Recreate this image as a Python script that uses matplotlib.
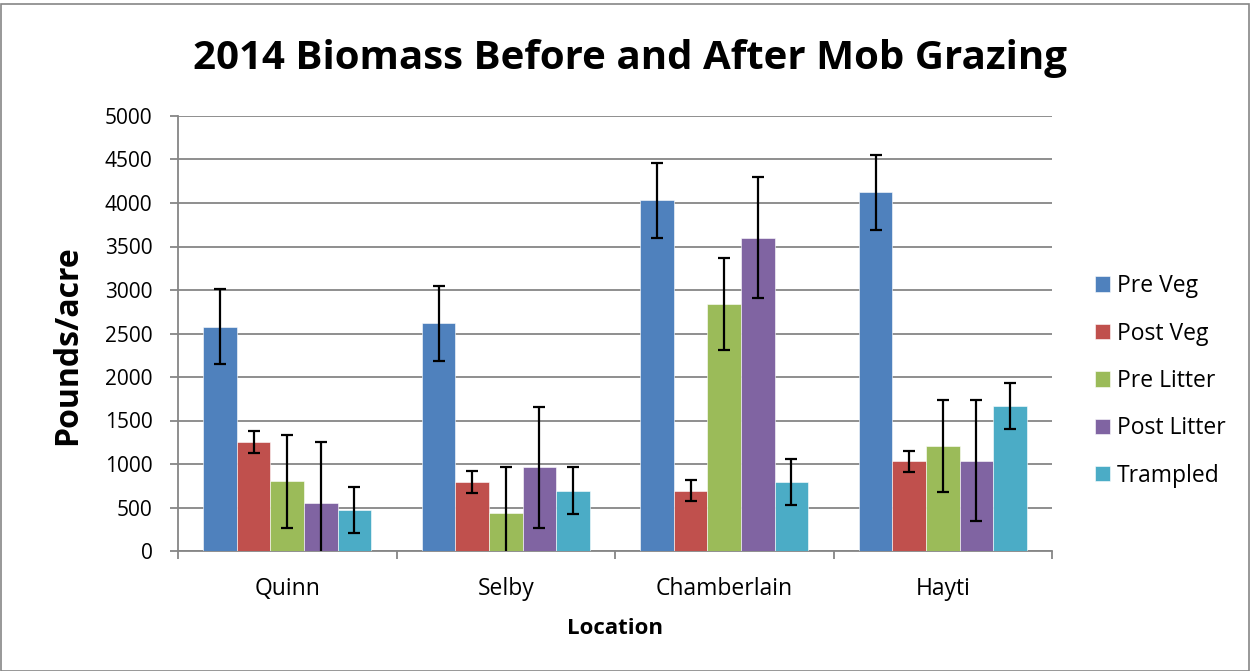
import matplotlib.pyplot as plt
import matplotlib.patches as patches
import numpy as np

plt.rcParams['font.family'] = ['Open Sans', 'DejaVu Sans']

# Data (pounds/acre)
locations = ['Quinn', 'Selby', 'Chamberlain', 'Hayti']
series = ['Pre Veg', 'Post Veg', 'Pre Litter', 'Post Litter', 'Trampled']
colors = ['#4F81BD', '#C0504D', '#9BBB59', '#8064A2', '#4BACC6']

pre_veg = [2580, 2615, 4030, 4125]
post_veg = [1250, 795, 695, 1030]
pre_litter = [800, 435, 2840, 1205]
post_litter = [555, 965, 3600, 1040]
trampled = [470, 695, 790, 1670]

pre_veg_err = [430, 430, 430, 430]
post_veg_err = [125, 125, 125, 125]
pre_litter_err = [530, 530, 530, 530]
post_litter_err = [695, 695, 695, 695]
trampled_err = [265, 265, 265, 265]

values = [pre_veg, post_veg, pre_litter, post_litter, trampled]
errors = [pre_veg_err, post_veg_err, pre_litter_err, post_litter_err, trampled_err]

grid_col = '#868686'

fig = plt.figure(figsize=(12.51, 6.71), dpi=100)
ax = fig.add_axes([178 / 1251, 1 - 551 / 671, 874 / 1251, 435 / 671])

# chart border
fig.patches.append(patches.Rectangle((0.0008, 0.0), 0.9976, 0.9935, transform=fig.transFigure,
                                     fill=False, edgecolor=grid_col, linewidth=1.2))

x = np.arange(len(locations))
bw = 1 / 6.5
for i, (vals, errs) in enumerate(zip(values, errors)):
    pos = x + (i - 2) * bw
    ax.bar(pos, vals, width=bw, color=colors[i], edgecolor='white', linewidth=0.4,
           label=series[i], zorder=3)
    ax.errorbar(pos, vals, yerr=errs, fmt='none', ecolor='black', elinewidth=1.6,
                capsize=4.3, capthick=1.6, zorder=4)

ax.set_xlim(-0.5, 3.5)
ax.set_ylim(0, 5000)
ax.set_yticks(np.arange(0, 5001, 500))
ax.yaxis.grid(True, color=grid_col, linewidth=1.3, zorder=0)
ax.set_axisbelow(True)

ax.set_xticks(np.arange(-0.5, 3.6, 1))
ax.set_xticklabels([])
ax.set_xticks(x, minor=True)
ax.set_xticklabels(locations, minor=True, fontsize=16.5)
ax.tick_params(axis='x', which='major', length=6, width=1.3, color=grid_col)
ax.tick_params(axis='x', which='minor', length=0, pad=18.5)
ax.tick_params(axis='y', length=5.8, width=1.3, color=grid_col, labelsize=15, pad=12.5)

for side in ['top', 'right']:
    ax.spines[side].set_visible(False)
for side in ['left', 'bottom']:
    ax.spines[side].set_color(grid_col)
    ax.spines[side].set_linewidth(1.3)

fig.text(615 / 1251, 1 - 628 / 671, 'Location', ha='center', va='center',
         fontsize=16, fontweight='bold')
fig.text(68 / 1251, 1 - 345 / 671, 'Pounds/acre', ha='center', va='center',
         rotation=90, fontsize=23, fontweight='bold')

fig.text(630 / 1251, 1 - 58 / 671, '2014 Biomass Before and After Mob Grazing',
         ha='center', va='center', fontsize=29, fontweight='bold')

fig.legend(loc='center left', bbox_to_anchor=(1074 / 1251, 1 - 381 / 671), frameon=False,
           fontsize=16.5, handlelength=0.66, handleheight=0.66, handletextpad=0.32,
           labelspacing=1.02)

fig.savefig('out.png', dpi=100)
